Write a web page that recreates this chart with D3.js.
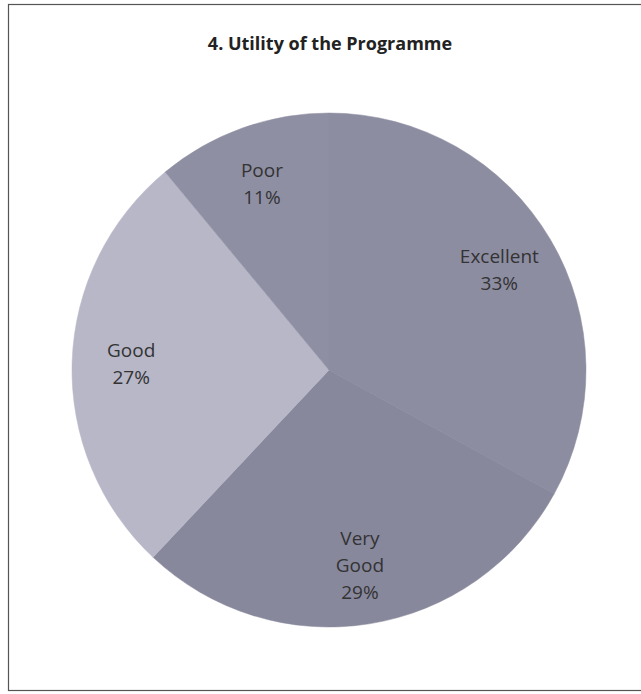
<!DOCTYPE html>
<html>
<head>
<meta charset="utf-8">
<script src="https://cdn.jsdelivr.net/npm/d3@7"></script>
<style>
  body { margin: 0; background: #fff; }
  svg { display: block; }
</style>
</head>
<body>
<div id="chart"></div>
<script>
const WIDTH = 641
const HEIGHT = 694
const TITLE = '4. Utility of the Programme'

// data
const categories = ['Excellent', 'Very Good', 'Good', 'Poor']
const percents = [33, 29, 27, 11]
const labelLines = [['Excellent'], ['Very', 'Good'], ['Good'], ['Poor']]
const sliceColors = ['#8d8da2', '#88889d', '#b7b7c8', '#8f8fa3']

const CX = 329
const CY = 370
const RADIUS = 257

var svg = d3.select('#chart').append('svg')
  .attr('width', WIDTH).attr('height', HEIGHT)

// frame round the chart
svg.append('rect')
  .attr('x', 8.5).attr('y', 4.5)
  .attr('width', 640).attr('height', 686)
  .attr('fill', 'none')
  .attr('stroke', '#555')
  .attr('stroke-width', 1.2)

svg.append('text')
  .attr('x', 330).attr('y', 50)
  .attr('text-anchor', 'middle')
  .attr('font-family', 'Open Sans, sans-serif')
  .attr('font-weight', 'bold')
  .attr('font-size', 18)
  .attr('fill', '#222')
  .text(TITLE)

var data = categories.map((c, i) => ({name: c, value: percents[i], lines: labelLines[i], color: sliceColors[i]}))

var pie = d3.pie().sort(null).value(d => d.value)
var arc = d3.arc().innerRadius(0).outerRadius(RADIUS)
var labelArc = d3.arc().innerRadius(RADIUS * 0.77).outerRadius(RADIUS * 0.77)

var g = svg.append('g').attr('transform', `translate(${CX}, ${CY})`)
var arcs = pie(data)

g.selectAll('.slice').data(arcs).enter()
  .append('path')
  .attr('class', 'slice')
  .attr('d', arc)
  .attr('fill', d => d.data.color)
  .attr('stroke', d => d.data.color)
  .attr('stroke-width', 0.5)

// labels: name lines then percent, centred on the slice
var LINE_H = 27
var labels = g.selectAll('.label').data(arcs).enter()
  .append('text')
  .attr('class', 'label')
  .attr('text-anchor', 'middle')
  .attr('font-family', 'Open Sans, sans-serif')
  .attr('font-size', 19)
  .attr('fill', '#333')
  .attr('transform', d => {
    var [x, y] = labelArc.centroid(d)
    return `translate(${x}, ${y})`
  })

labels.each(function(d) {
  var lines = d.data.lines.concat([d.data.value + '%'])
  var top = -(lines.length - 1) * LINE_H / 2 + 7
  var t = d3.select(this)
  lines.forEach((l, i) => {
    t.append('tspan').attr('x', 0).attr('y', top + i * LINE_H).text(l)
  })
})
</script>
</body>
</html>
